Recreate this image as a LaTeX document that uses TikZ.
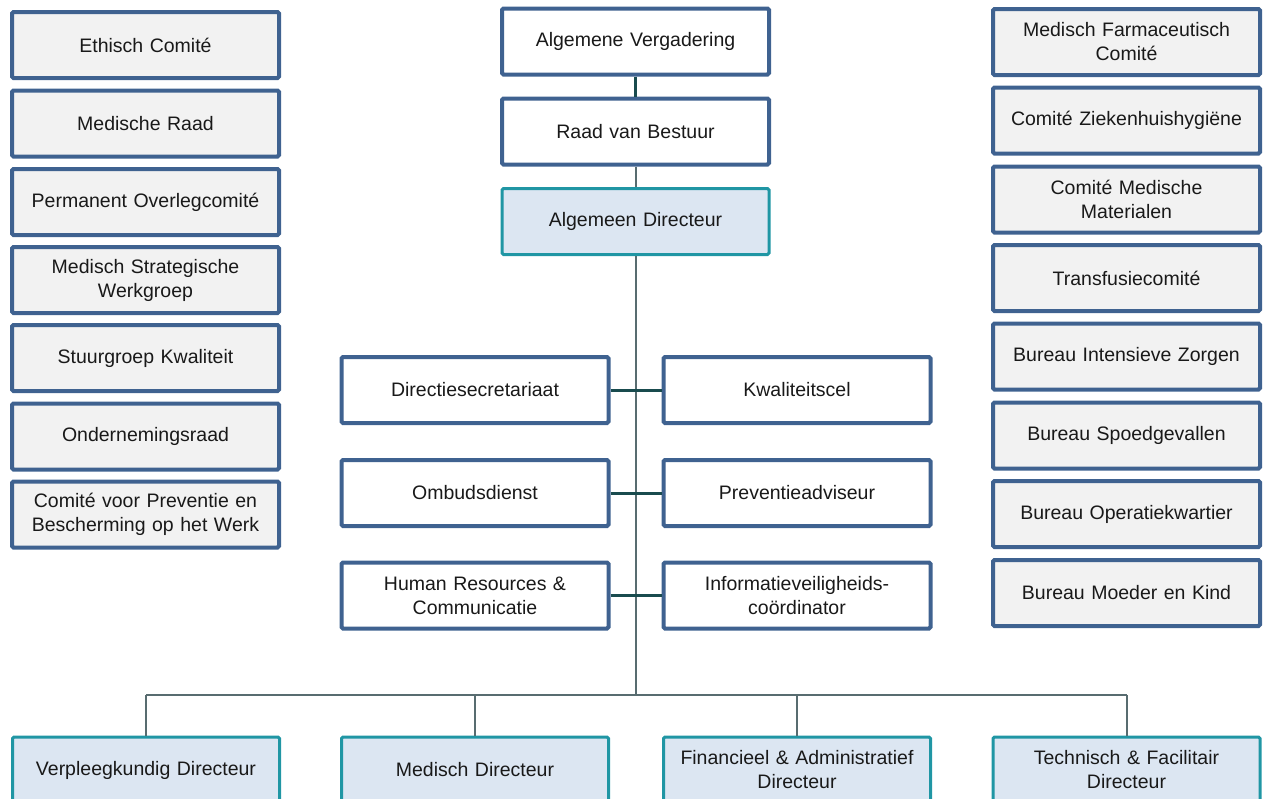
\documentclass[tikz,border=0pt]{standalone}
\usepackage{fontspec}
\setmainfont{Liberation Sans}
\definecolor{bblue}{RGB}{63,98,144}
\definecolor{gfill}{RGB}{242,242,242}
\definecolor{tborder}{RGB}{32,150,164}
\definecolor{tfill}{RGB}{220,230,242}
\definecolor{dconn}{RGB}{25,75,78}
\definecolor{gline}{RGB}{88,108,112}
\definecolor{txt}{RGB}{25,25,25}
\tikzset{
  basebox/.style={rectangle, rounded corners=1.5pt, inner sep=0pt, minimum width=267pt, minimum height=66pt,
    align=center, text width=260pt, text=txt, font=\fontsize{19.5}{24}\selectfont},
  sidebox/.style={basebox, draw=bblue, line width=4pt, fill=gfill},
  whitebox/.style={basebox, draw=bblue, line width=4pt, fill=white},
  dirbox/.style={basebox, draw=tborder, line width=3pt, fill=tfill},
  darkconn/.style={draw=dconn, line width=3pt},
  grayconn/.style={draw=gline, line width=2pt},
}
\begin{document}
\begin{tikzpicture}[x=1pt,y=-1pt]
\useasboundingbox (0,0) rectangle (1268,798);
\clip (0,0) rectangle (1268,798);
% left column
\node[sidebox] (l1) at (145.5,45) {Ethisch Comité};
\node[sidebox] (l2) at (145.5,123.5) {Medische Raad};
\node[sidebox] (l3) at (145.5,202) {Permanent Overlegcomité};
\node[sidebox] (l4) at (145.5,280) {Medisch Strategische\\Werkgroep};
\node[sidebox] (l5) at (145.5,358) {Stuurgroep Kwaliteit};
\node[sidebox] (l6) at (145.5,436.5) {Ondernemingsraad};
\node[sidebox] (l7) at (145.5,514.5) {Comité voor Preventie en\\Bescherming op het Werk};
% right column
\node[sidebox] (r1) at (1126.5,42) {Medisch Farmaceutisch\\Comité};
\node[sidebox] (r2) at (1126.5,120.5) {Comité Ziekenhuishygiëne};
\node[sidebox] (r3) at (1126.5,199.5) {Comité Medische\\Materialen};
\node[sidebox] (r4) at (1126.5,278) {Transfusiecomité};
\node[sidebox] (r5) at (1126.5,356.5) {Bureau Intensieve Zorgen};
\node[sidebox] (r6) at (1126.5,435.5) {Bureau Spoedgevallen};
\node[sidebox] (r7) at (1126.5,514) {Bureau Operatiekwartier};
\node[sidebox] (r8) at (1126.5,593) {Bureau Moeder en Kind};
% center top
\node[whitebox] (av) at (635.5,41.5) {Algemene Vergadering};
\node[whitebox] (rvb) at (635.5,131.5) {Raad van Bestuur};
\node[dirbox] (ad) at (635.5,221.5) {Algemeen Directeur};
% middle staff
\node[whitebox] (ds) at (475,390) {Directiesecretariaat};
\node[whitebox] (kc) at (797,390) {Kwaliteitscel};
\node[whitebox] (od) at (475,493) {Ombudsdienst};
\node[whitebox] (pa) at (797,493) {Preventieadviseur};
\node[whitebox] (hr) at (475,595.5) {Human Resources \&\\Communicatie};
\node[whitebox] (iv) at (797,595.5) {Informatieveiligheids-\\coördinator};
% bottom directors
\node[dirbox] (vd) at (146,770) {Verpleegkundig Directeur};
\node[dirbox] (md) at (475,770) {Medisch Directeur};
\node[dirbox] (fd) at (797,770) {Financieel \& Administratief\\Directeur};
\node[dirbox] (td) at (1126.5,770) {Technisch \& Facilitair\\Directeur};
% connectors
\coordinate (bus) at (635.5,695);
\coordinate (busl) at (146,695);
\coordinate (busr) at (1126.5,695);
\draw[grayconn] (ad.south) -- (bus);
\draw[grayconn] (busl) -- (busr);
\draw[grayconn] (busl) -- (vd.north);
\draw[grayconn] (md.north |- bus) -- (md.north);
\draw[grayconn] (fd.north |- bus) -- (fd.north);
\draw[grayconn] (busr) -- (td.north);
\draw[grayconn] (rvb.south) -- (ad.north);
\draw[darkconn] (av.south) -- (rvb.north);
\draw[darkconn] (ds.east) -- (kc.west);
\draw[darkconn] (od.east) -- (pa.west);
\draw[darkconn] (hr.east) -- (iv.west);
\end{tikzpicture}
\end{document}
